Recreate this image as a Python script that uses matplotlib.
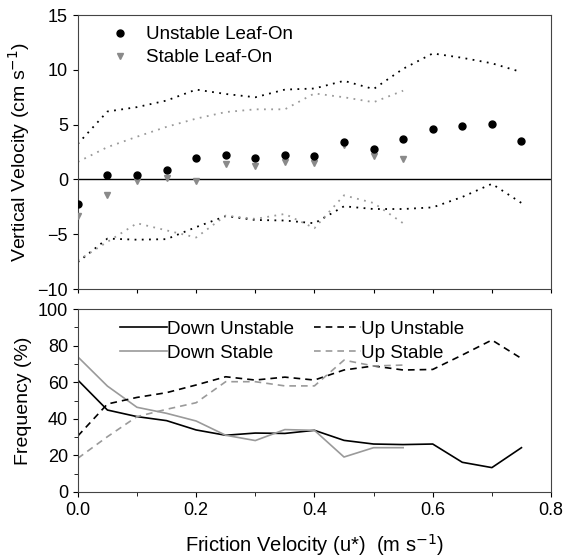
import matplotlib
matplotlib.use("Agg")
import matplotlib.pyplot as plt
from matplotlib.ticker import MultipleLocator

plt.rcParams['font.family'] = ['Liberation Sans', 'DejaVu Sans']

# friction velocity bins (m s-1)
ustar = [0.0, 0.05, 0.1, 0.15, 0.2, 0.25, 0.3, 0.35, 0.4, 0.45, 0.5, 0.55, 0.6, 0.65, 0.7, 0.75]
ustar_st = ustar[:12]

# vertical velocity (cm s-1)
w_unstable = [-2.2, 0.45, 0.45, 0.85, 1.95, 2.2, 2.0, 2.25, 2.1, 3.4, 2.75, 3.7, 4.6, 4.9, 5.1, 3.55]
w_stable = [-3.3, -1.45, -0.15, 0.15, -0.1, 1.4, 1.2, 1.55, 1.5, 3.1, 2.15, 1.9]
w_unstable_hi = [3.25, 6.2, 6.6, 7.2, 8.2, 7.8, 7.5, 8.2, 8.3, 9.0, 8.25, 10.1, 11.5, 11.1, 10.6, 9.8]
w_unstable_lo = [-7.55, -5.4, -5.5, -5.45, -4.35, -3.35, -3.7, -3.75, -4.0, -2.45, -2.7, -2.7, -2.55, -1.6, -0.4, -2.15]
w_stable_hi = [1.6, 2.95, 3.9, 4.8, 5.55, 6.15, 6.4, 6.4, 7.85, 7.5, 7.05, 8.1]
w_stable_lo = [-7.4, -5.7, -4.0, -4.65, -5.3, -3.3, -3.6, -3.15, -4.45, -1.45, -2.15, -4.0]

# frequency (%)
down_unstable = [61.2, 44.8, 41.2, 39.0, 33.9, 31.0, 32.2, 32.0, 33.7, 28.2, 26.2, 25.9, 26.2, 16.2, 13.3, 24.2]
down_stable = [73.9, 57.9, 46.3, 43.0, 38.8, 31.0, 28.1, 34.1, 33.7, 19.1, 24.2, 24.2]
up_unstable = [30.6, 48.1, 51.7, 54.3, 58.5, 63.0, 61.2, 62.8, 61.2, 66.7, 68.9, 66.7, 67.0, 74.9, 83.1, 73.0]
up_stable = [18.4, 30.2, 41.2, 45.2, 48.8, 60.3, 60.3, 58.0, 58.0, 72.1, 68.9, 69.4]

gray = '#8a8a8a'
lgray = '#9a9a9a'

fig = plt.figure(figsize=(5.64, 5.59), dpi=100)
ax1 = fig.add_axes([0.138, 0.483, 0.839, 0.490])
ax2 = fig.add_axes([0.138, 0.120, 0.839, 0.327])

# top panel
ax1.axhline(0, color='black', lw=1.0)
ax1.plot(ustar, w_unstable_hi, ls=(0, (1, 3)), color='black', lw=1.3)
ax1.plot(ustar, w_unstable_lo, ls=(0, (1, 3)), color='black', lw=1.3)
ax1.plot(ustar_st, w_stable_hi, ls=(0, (1, 3)), color=lgray, lw=1.3)
ax1.plot(ustar_st, w_stable_lo, ls=(0, (1, 3)), color=lgray, lw=1.3)
ax1.plot(ustar_st, w_stable, 'v', color=gray, ms=5, ls='none', label='Stable Leaf-On', zorder=3)
ax1.plot(ustar, w_unstable, 'o', color='black', ms=5, ls='none', label='Unstable Leaf-On', zorder=4)
h, l = ax1.get_legend_handles_labels()
ax1.legend(h[::-1], l[::-1], loc='upper left', bbox_to_anchor=(0.025, 1.0), frameon=False,
           fontsize=13.5, handletextpad=0.4, labelspacing=0.3, borderaxespad=0.2)
ax1.set_xlim(0, 0.8)
ax1.set_ylim(-10, 15)
ax1.yaxis.set_major_locator(MultipleLocator(5))
ax1.xaxis.set_major_locator(MultipleLocator(0.1))
ax1.tick_params(axis='x', labelbottom=False, direction='out', length=3)
ax1.tick_params(axis='y', direction='out', length=3.5, labelsize=13)
ax1.set_ylabel('Vertical Velocity (cm s$^{-1}$)', fontsize=14)

# bottom panel
ax2.plot(ustar, down_unstable, color='black', lw=1.2, label='Down Unstable')
ax2.plot(ustar_st, down_stable, color=lgray, lw=1.2, label='Down Stable')
ax2.plot(ustar, up_unstable, color='black', lw=1.2, ls=(0, (4, 3)), label='Up Unstable')
ax2.plot(ustar_st, up_stable, color=lgray, lw=1.2, ls=(0, (4, 3)), label='Up Stable')
ax2.legend(loc='upper left', bbox_to_anchor=(0.065, 1.0), ncol=2, frameon=False, fontsize=13.5,
           handlelength=2.5, handletextpad=0.0, labelspacing=0.38, columnspacing=1.1,
           borderaxespad=0.2)
ax2.set_xlim(0, 0.8)
ax2.set_ylim(0, 100)
ax2.xaxis.set_major_locator(MultipleLocator(0.2))
ax2.xaxis.set_minor_locator(MultipleLocator(0.1))
ax2.yaxis.set_major_locator(MultipleLocator(20))
ax2.yaxis.set_minor_locator(MultipleLocator(10))
ax2.tick_params(which='major', direction='out', length=3.5, labelsize=13)
ax2.tick_params(which='minor', direction='out', length=3)
ax2.xaxis.set_major_formatter(plt.FormatStrFormatter('%.1f'))
ax2.set_ylabel('Frequency (%)', fontsize=14)
ax2.set_xlabel('Friction Velocity (u*)  (m s$^{-1}$)', fontsize=14.5, labelpad=10)

for ax in (ax1, ax2):
    for s in ax.spines.values():
        s.set_color('#444444')

fig.savefig('out.png', dpi=100)
